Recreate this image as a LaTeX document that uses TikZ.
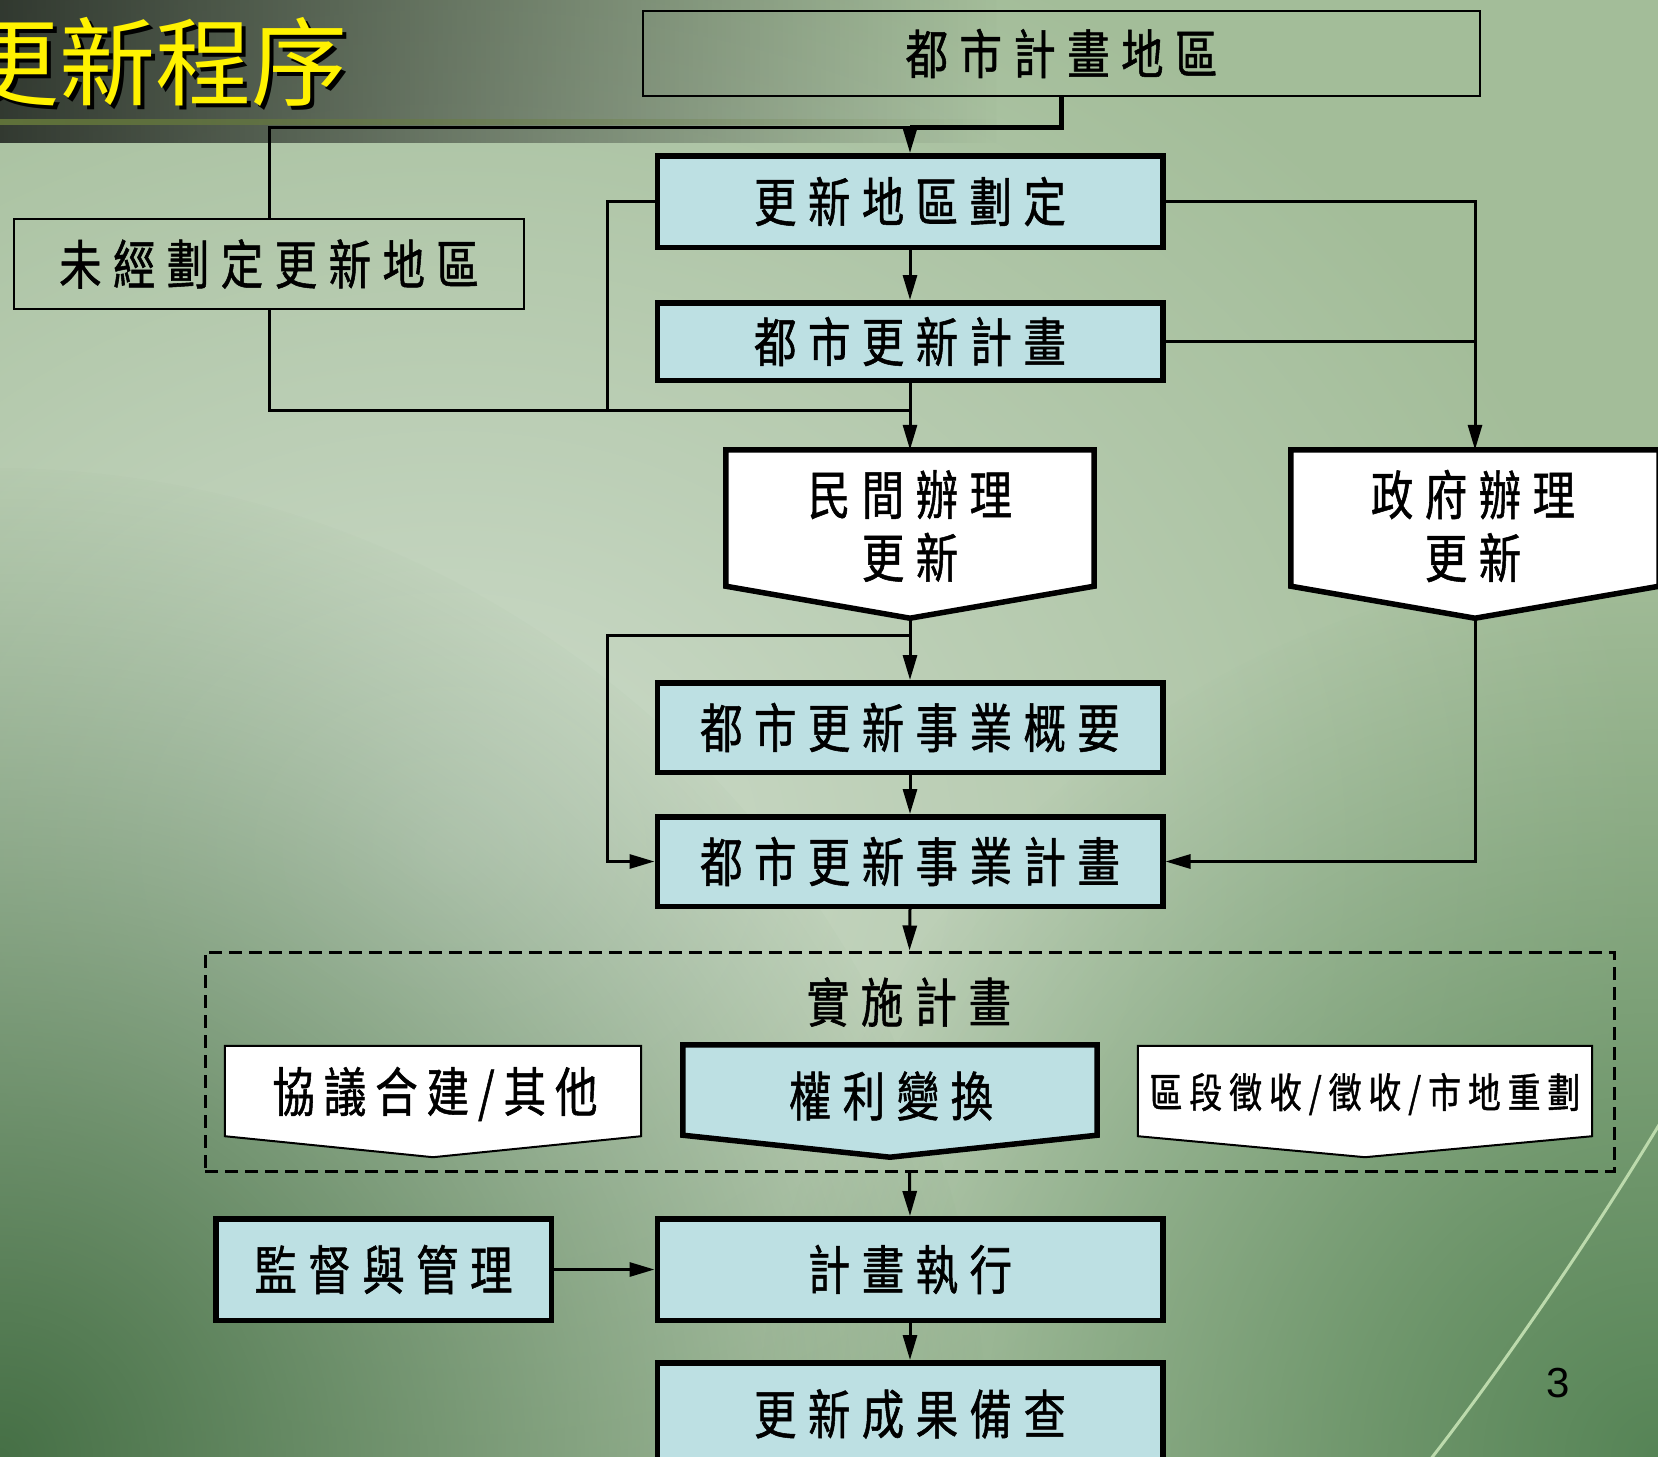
\documentclass[tikz,border=0pt]{standalone}
\usepackage{fontspec}
\usetikzlibrary{arrows.meta,calc,fadings}
\setmainfont{Liberation Sans}
\newfontfamily\cjk[FakeStretch=0.8,FakeBold=1]{Noto Sans CJK TC}
\newfontfamily\cjktitle{Noto Sans CJK TC}
\definecolor{boxblue}{RGB}{189,224,227}
\definecolor{bgbase}{RGB}{163,189,153}
\definecolor{bglight}{RGB}{206,220,203}
\definecolor{bgdarkA}{RGB}{70,112,70}
\definecolor{bgdarkB}{RGB}{86,132,86}
\definecolor{titledark}{RGB}{26,30,26}
\definecolor{oliveline}{RGB}{105,125,60}
\definecolor{streakc}{RGB}{188,218,172}
\tikzfading[name=spotfade, inner color=transparent!0, outer color=transparent!100]
\tikzfading[name=rightfade, left color=transparent!0, right color=transparent!100]
\newcommand\spc[2]{\def\spcgap{#1}\spcloop#2\endspc}
\def\spcloop#1#2\endspc{#1\ifx\relax#2\relax\else\hspace{\spcgap}\spcloop#2\endspc\fi}
\tikzset{
  cjkfont/.style={font=\cjk\fontsize{53}{63}\selectfont, inner sep=0pt},
  bluebox/.style={draw=black, line width=5.5pt, fill=boxblue, minimum width=505.5pt, inner sep=0pt, cjkfont},
  thinbox/.style={draw=black, line width=2pt, inner sep=0pt, cjkfont},
  shapenode/.style={draw=none, inner sep=0pt},
  thickedge/.style={draw=black, line width=5.5pt, line join=miter},
  thinedge/.style={draw=black, line width=2pt, line join=miter},
  conn/.style={draw=black, line width=3pt},
  arr/.style={conn, -{Triangle[length=25pt,width=14pt]}},
  txt/.style={cjkfont, align=center},
}
\begin{document}
\begin{tikzpicture}[x=1pt,y=-1pt]
\useasboundingbox (0,0) rectangle (1658,1457);
\clip (0,0) rectangle (1658,1457);
% background
\fill[bgbase] (0,0) rectangle (1658,1457);
\fill[bglight, path fading=spotfade] (450,850) ellipse [x radius=1200pt, y radius=1000pt];
\fill[bgdarkA, path fading=spotfade] (0,1457) circle [radius=1000pt];
\fill[bgdarkB, path fading=spotfade] (1658,1457) circle [radius=900pt];
% title bar
\fill[titledark, path fading=rightfade] (-200,0) rectangle (1000,143);
\fill[oliveline, path fading=rightfade] (-200,119) rectangle (1000,125);
% streak
\draw[streakc, line width=3pt] (1430,1460) .. controls (1500,1370) and (1590,1240) .. (1665,1115);
% title
\node[font=\cjktitle\fontsize{96}{100}\selectfont, text=black, inner sep=0pt] (titleshadow) at (160,66) {更新程序};
\node[font=\cjktitle\fontsize{96}{100}\selectfont, text=yellow, inner sep=0pt] (title) at (156,62) {更新程序};
% page number
\node[font=\fontsize{42}{48}\selectfont, inner sep=0pt] (pnum) at (1558,1383) {3};

% boxes
\node[thinbox, minimum width=837pt, minimum height=85pt] (top) at (1061.5,53.5) {\spc{11.5pt}{都市計畫地區}};
\node[bluebox, minimum height=91.5pt] (desig) at (910,201.5) {\spc{11.5pt}{更新地區劃定}};
\node[bluebox, minimum height=77.5pt] (plan) at (910,341.5) {\spc{11.5pt}{都市更新計畫}};
\node[thinbox, minimum width=510pt, minimum height=90pt] (undes) at (269,264) {\spc{11.5pt}{未經劃定更新地區}};

% pentagon shapes
\node[shapenode, minimum width=368pt, minimum height=136pt] (priv) at (910,518) {};
\coordinate (privtip) at ($(priv.south)+(0,32)$);
\draw[thickedge, fill=white] (priv.north west) -- (priv.north east) -- (priv.south east) -- (privtip) -- (priv.south west) -- cycle;
\node[txt] (privt) at (910,526) {\spc{11.5pt}{民間辦理}\\\spc{11.5pt}{更新}};

\node[shapenode, minimum width=368pt, minimum height=136pt] (gov) at (1475,518) {};
\coordinate (govtip) at ($(gov.south)+(0,32)$);
\draw[thickedge, fill=white] (gov.north west) -- (gov.north east) -- (gov.south east) -- (govtip) -- (gov.south west) -- cycle;
\node[txt] (govt) at (1473,526) {\spc{11.5pt}{政府辦理}\\\spc{11.5pt}{更新}};

\node[bluebox, minimum height=89.5pt] (outline) at (910,727.5) {\spc{11.5pt}{都市更新事業概要}};
\node[bluebox, minimum height=89.5pt] (bizplan) at (910,861.5) {\spc{11.5pt}{都市更新事業計畫}};

% implementation plan group
\node[draw=black, line width=3pt, dash pattern=on 13pt off 7pt, minimum width=1409pt, minimum height=219pt, inner sep=0pt] (impl) at (909.5,1061.5) {};
\node[txt] (implt) at (909,1002) {\spc{11.5pt}{實施計畫}};

\node[shapenode, minimum width=416pt, minimum height=90pt] (coop) at (433,1091) {};
\coordinate (cooptip) at ($(coop.south)+(0,21)$);
\draw[thinedge, fill=white] (coop.north west) -- (coop.north east) -- (coop.south east) -- (cooptip) -- (coop.south west) -- cycle;
\node[txt] (coopt) at (435,1094) {\spc{9pt}{協議合建/其他}};

\node[shapenode, minimum width=414pt, minimum height=90pt] (rights) at (890,1090) {};
\coordinate (rightstip) at ($(rights.south)+(0,22)$);
\draw[thickedge, fill=boxblue] (rights.north west) -- (rights.north east) -- (rights.south east) -- (rightstip) -- (rights.south west) -- cycle;
\node[txt] (rightst) at (891,1096) {\spc{11.5pt}{權利變換}};

\node[shapenode, minimum width=454pt, minimum height=90pt] (expro) at (1365,1091) {};
\coordinate (exprotip) at ($(expro.south)+(0,21)$);
\draw[thinedge, fill=white] (expro.north west) -- (expro.north east) -- (expro.south east) -- (exprotip) -- (expro.south west) -- cycle;
\node[txt, font=\cjk\fontsize{41}{48}\selectfont] (exprot) at (1365,1094) {\spc{7pt}{區段徵收/徵收/市地重劃}};

% bottom boxes
\node[bluebox, minimum height=101.5pt] (exec) at (910,1269.5) {\spc{11.5pt}{計畫執行}};
\node[bluebox, minimum width=335.5pt, minimum height=101.5pt] (super) at (383.5,1269.5) {\spc{11.5pt}{監督與管理}};
\node[bluebox, minimum height=102.5pt] (result) at (910,1414) {\spc{11.5pt}{更新成果備查}};

% connectors
\coordinate (jA) at (910,127);
\coordinate (jB) at (910,410);
\coordinate (jD) at (910,635);
\coordinate (xL) at (607,0);
\draw[conn] (jA) -| (undes.north);
\draw[conn, line width=5pt, line join=miter] (top.south) |- (jA);
\draw[arr] (jA) -- (desig.north);
\draw[arr] (desig.south) -- (plan.north);
\draw[arr] (desig.east) -| (gov.north);
\draw[conn] (plan.east) -- (plan.east -| gov.north);
\draw[conn] (desig.west) -| (xL |- jB) -- (jB);
\draw[conn] (undes.south) |- (jB);
\draw[arr] (plan.south) -- (priv.north);
\draw[arr] (privtip) -- (outline.north);
\draw[arr] (jD) -- (xL |- jD) |- (bizplan.west);
\draw[arr] (outline.south) -- (bizplan.north);
\draw[arr] (govtip) |- (bizplan.east);
\draw[arr] (bizplan.south) -- (impl.north);
\draw[arr] (impl.south) -- (exec.north);
\draw[arr] (super.east) -- (exec.west);
\draw[arr] (exec.south) -- (result.north);
\end{tikzpicture}
\end{document}
